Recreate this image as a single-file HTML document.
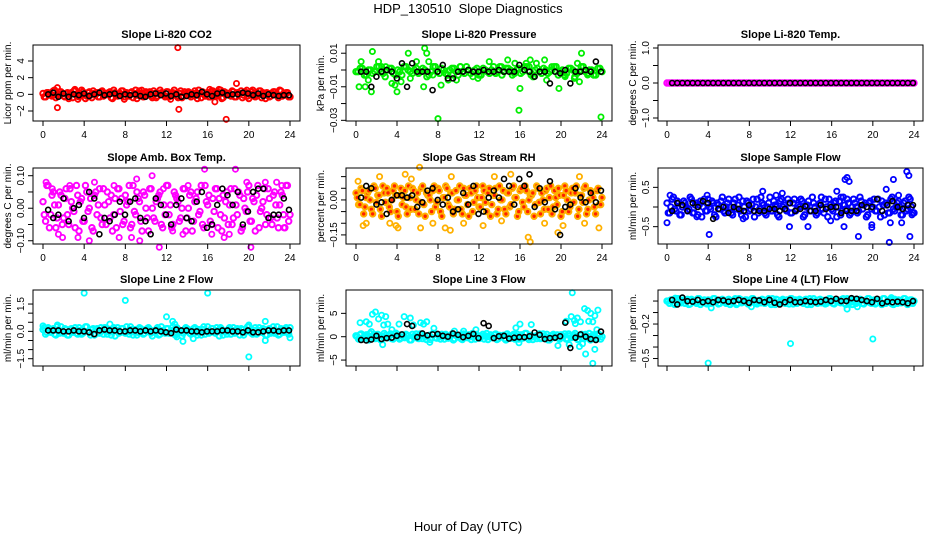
<!DOCTYPE html>
<html><head><meta charset="utf-8"><style>
body{margin:0;background:#fff;width:936px;height:540px;overflow:hidden}
svg{display:block;font-family:"Liberation Sans",sans-serif}
</style></head><body>
<svg id="chart" width="936" height="540" viewBox="0 0 936 540">
<text x="468" y="13" text-anchor="middle" font-size="13" style="white-space:pre">HDP_130510  Slope Diagnostics</text>
<text x="468" y="531" text-anchor="middle" font-size="13">Hour of Day (UTC)</text>
</svg>
<script>
// ---- data (hour 0..24; colored series spread evenly over the day) ----
const xTicks=[0,4,8,12,16,20,24];
const co2Vals=[0.1,-0.3,0.2,-0.1,0.4,-0.4,0,0.3,-0.2,0.1,-0.5,0.2,0.4,-0.1,-0.3,0.5,0,-0.2,0.3,-0.4,0.1,0.2,-0.3,0.4,-0.1,0,0.3,-0.5,0.2,-0.2,0.1,0.4,-0.3,0,0.2,-0.4,0.5,-0.1,0.1,-0.3,0.3,0,-0.2,0.4,-0.4,0.1,0.2,-0.1,0.3,-0.3,0,0.5,-0.2,0.1,-0.4,0.3,0.2,-0.1,0,0.4,-0.5,0.1,0.3,-0.2,0.2,-0.3,0.4,0,-0.1,0.5,-0.4,0.2,0.1,-0.2,0.3,-0.3,0,0.4,-0.1,0.2,-0.5,0.3,0.1,-0.2,0.4,-0.4,0,0.2,-0.3,0.1,0.3,-0.1,0.5,-0.2,0,0.2,-0.3];
const co2Out=[[1.4,0.8],[1.4,-1.6],[3.1,0.6],[3.4,-0.6],[13.1,5.6],[13.2,-1.8],[16.2,0.6],[16.7,-0.9],[17.1,0.6],[17.8,-3],[18.8,1.3],[19.8,0.5],[7.9,-0.6],[12.4,-0.6],[9.6,0.5]];
const co2Black=[0,0.2,-0.3,0.1,-0.3,0,-0.1,0.1,-0.2,0,0.2,-0.1,0,0.1,-0.2,0,-0.1,0,-0.2,-0.3,0,0.1,-0.1,0.1,-0.2,0,-0.3,-0.2,0,-0.1,0.3,0,-0.2,0.1,0.2,-0.1,0,0,0.2,0.1,-0.1,0.1,-0.2,0,-0.1,-0.2,-0.1,-0.1];
const presVals=[-0.001,0.001,-0.003,0,-0.002,0.002,-0.001,-0.004,0.001,-0.002,0,-0.003,0.002,-0.001,0,-0.002,0.001,-0.004,-0.001,0.002,-0.002,0,-0.003,0.001,-0.001,0.002,-0.002,0,-0.001,0.001,-0.003,0,-0.002,0.002,-0.001,-0.003,0.001,0,-0.002,0.001,-0.001,0.002,-0.003,0,-0.001,0.001,-0.002,0,0.002,-0.001,-0.003,0.001,0,-0.002,0.002,-0.001,0,-0.003,0.001,-0.001];
const presOut=[[0.5,0.005],[0.3,-0.010],[1.6,0.011],[1.5,-0.013],[2.2,0.005],[2.5,0.002],[3.8,-0.009],[4,-0.013],[4.4,-0.007],[5.1,0.010],[5.9,0.005],[6.7,0.013],[6.9,0.010],[7.1,0.005],[6.6,-0.010],[8,-0.029],[8.3,-0.009],[9,-0.006],[9.8,-0.006],[10.2,0.002],[11.4,-0.004],[13,0.005],[14.8,0.006],[15.5,0.004],[16,-0.011],[15.9,-0.024],[16.6,0.004],[17,0.006],[18.4,0.006],[18.6,-0.006],[19.8,-0.011],[20.4,-0.004],[21.3,-0.005],[21.6,0.004],[22,0.010],[22.6,-0.003],[23.9,-0.028],[0.9,-0.010],[2.9,0.002],[11.9,-0.005],[1.2,-0.006],[3.5,-0.008],[5.3,-0.005],[7.5,-0.003],[9.4,-0.003],[14.2,0.002],[16.9,0.002],[17.6,0.004],[19.1,0.002],[21.8,-0.007]];
const presBlack=[-0.001,-0.001,-0.010,-0.004,-0.001,0,-0.001,-0.005,0.004,-0.010,0.004,-0.001,-0.001,-0.001,-0.012,-0.001,0.003,-0.005,-0.005,-0.001,-0.001,0,-0.001,-0.001,0,-0.001,-0.001,0,-0.001,-0.001,-0.001,0.003,0,-0.001,-0.004,-0.001,-0.001,-0.008,-0.001,-0.002,0,-0.008,-0.001,-0.001,0,-0.001,0.005,-0.001];
const tempVals=[0,0,0,0,0,0,0,0,0,0,0,0,0,0,0,0,0,0,0,0,0,0,0,0,0,0,0,0,0,0,0,0,0,0,0,0,0,0,0,0,0,0,0,0,0,0,0,0,0,0,0,0,0,0,0,0,0,0,0,0];
const tempOut=[];
const tempBlack=[0,0,0,0,0,0,0,0,0,0,0,0,0,0,0,0,0,0,0,0,0,0,0,0,0,0,0,0,0,0,0,0,0,0,0,0,0,0,0,0,0,0,0,0,0,0,0,0];
const ambVals=[0.02,-0.04,0.07,-0.02,0.05,-0.06,0.01,0.04,-0.03,0.06,-0.05,0.02,-0.01,0.07,-0.07,0.03,-0.04,0.05,0,-0.06,0.04,-0.02,0.06,-0.05,0.01,0.05,-0.03,-0.07,0.03,0.06,-0.01,-0.05,0.04,0.02,-0.06,0.07,-0.02,0.03,-0.04,0.05,0,-0.07,0.06,-0.03,0.02,0.04,-0.05,0.01,0.07,-0.02,-0.06,0.05,0.03,-0.04,0,0.06,-0.03,0.04,-0.07,0.02,0.05,-0.01,-0.05,0.07,0.01,-0.04,0.03,0.06,-0.06,-0.02,0.04,0.02,-0.05,0.06,-0.03,0.01,0.05,-0.07,0.03,-0.01,0.07,-0.04,0.02,0.04,-0.06,0,0.06,-0.02,0.03,-0.05,0.05,-0.03,0.01,0.04,-0.06,0.07,-0.02];
const ambOut=[[0.3,0.08],[0.9,0.06],[1.5,-0.08],[1.9,-0.09],[3.4,-0.09],[4.5,-0.1],[5,0.08],[8.6,-0.09],[9.1,0.09],[9.4,-0.1],[10.6,0.1],[11.3,-0.12],[11.7,0.06],[13.6,-0.08],[15.7,0.12],[16.4,-0.08],[17.6,-0.09],[18.7,0.12],[19.8,0.08],[20.2,-0.12],[21.6,0.08],[22.7,0.08],[23.2,0.07],[2.6,0.07],[6.9,0.07],[14.1,0.07],[23.4,-0.06],[7.4,-0.09],[12.6,-0.07],[18.1,-0.08]];
const ambBlack=[-0.005,-0.03,-0.02,0.03,-0.04,0,0.01,-0.03,0.05,0.03,-0.08,-0.03,-0.04,-0.02,0.02,-0.02,0.02,0.03,-0.03,-0.04,-0.08,0.03,0.01,-0.02,-0.05,0.01,0.03,-0.03,-0.04,0.02,0.05,-0.06,-0.05,0.01,0.06,0.04,0.01,0.05,-0.05,-0.01,0.05,0.06,0.06,-0.03,-0.02,-0.02,0.03,-0.005];
const rhVals=[0.03,-0.02,0.05,-0.06,0.01,0.04,-0.04,0.06,-0.01,0.02,-0.07,0.03,0.05,-0.03,0,0.06,-0.05,0.02,-0.02,0.04,-0.06,0.01,0.05,-0.04,0.03,-0.01,0.06,-0.07,0.02,0,0.04,-0.03,0.05,-0.05,0.01,0.06,-0.02,0.03,-0.06,0.04,0,-0.04,0.05,0.02,-0.07,0.03,-0.01,0.06,-0.03,0.01,0.04,-0.05,0.05,-0.02,0.02,-0.06,0.06,0,-0.04,0.03,-0.03,0.05,0.01,-0.07,0.04,-0.01,0.06,-0.05,0.02,0.03,-0.02,0.05,-0.06,0,0.04,-0.04,0.06,-0.03,0.01,0.05,-0.07,0.02,0.04,-0.05,0.03,-0.01,0.06,-0.04,0.02,0.05,-0.06,0,0.03,-0.03,0.04,-0.02,0.01];
const rhOut=[[0.2,0.08],[0.7,-0.11],[1,-0.1],[2.3,0.10],[3.3,-0.1],[3.9,-0.11],[4.1,-0.12],[4.8,0.11],[6.2,0.14],[6.3,-0.12],[7.5,-0.1],[8.7,-0.12],[9.2,-0.13],[9.3,0.10],[10.5,-0.10],[12.4,-0.11],[13.5,0.10],[14.2,-0.09],[16.8,-0.16],[17,-0.18],[18.4,-0.10],[19.7,-0.14],[20.2,-0.11],[21.8,0.10],[22.3,-0.10],[23.7,-0.12],[15.1,0.11],[5.4,0.09]];
const rhBlack=[0.01,0.06,0.05,-0.02,-0.01,-0.06,0,0.02,0.02,0.01,0.02,-0.03,-0.01,0.04,0.05,0,-0.02,0.01,-0.05,-0.04,0.03,-0.02,0.06,-0.06,-0.05,0.01,0.04,0.01,0.09,0.06,-0.02,0.09,0.06,0.11,-0.03,0.05,-0.01,0.08,-0.04,-0.15,-0.03,-0.02,0.05,0.01,-0.01,0.03,-0.01,0.04];
const sfVals=[0.1,-0.15,0.2,-0.05,0.15,-0.2,0,0.1,-0.1,0.25,-0.15,0.05,-0.2,0.15,0,-0.1,0.2,-0.05,0.1,-0.25,0.05,0.15,-0.1,0,0.2,-0.15,0.1,-0.05,0.25,-0.2,0,0.15,-0.1,0.05,-0.25,0.2,-0.05,0.1,-0.15,0,0.25,-0.1,0.05,-0.2,0.15,0,-0.05,0.2,-0.15,0.1,-0.1,0.05,0.2,-0.25,0,0.15,-0.1,0.1,-0.2,0.05,0.25,-0.15,0,0.2,-0.05,0.1,-0.25,0.15,-0.1,0.05,0.2,-0.2,0,0.1,-0.15,0.25,-0.05,0.1,-0.2,0.15,0,-0.1,0.2,-0.25,0.05,0.1,-0.15,0.2,-0.05,0,0.15,-0.2,0.1,-0.1,0.25,0,-0.15];
const sfOut=[[0,-0.4],[0.3,0.3],[2.9,-0.25],[4.1,-0.7],[3.9,0.3],[7.4,-0.3],[9.3,0.4],[10.6,0.3],[11.9,-0.5],[11.2,0.35],[13.7,-0.5],[15.9,-0.35],[16.5,0.4],[17.3,0.7],[17.5,0.75],[17.7,0.65],[17.2,-0.5],[18.6,-0.75],[19.9,-0.45],[19.9,-0.52],[21.3,0.45],[21.6,-0.9],[21.7,-0.4],[22,0.7],[22.5,0.3],[23.3,0.9],[23.5,0.8],[23.6,-0.75],[22.8,-0.4],[23.8,-0.2],[16.9,0.25],[20.5,0.2]];
const sfBlack=[-0.1,0.1,0.05,-0.1,0.1,0,0.15,0.1,-0.3,-0.05,0,-0.15,0,-0.05,-0.1,0.05,-0.1,-0.1,-0.1,-0.05,-0.05,-0.1,-0.05,0.1,-0.1,-0.05,0.02,-0.1,-0.1,0.05,-0.05,0,0,-0.15,-0.1,-0.1,-0.1,0.05,0,0,0.2,-0.1,0.05,0.15,0,-0.05,0.05,0.05];
const l2Vals=[0.1,-0.15,0.2,-0.05,0.15,-0.2,0,0.25,-0.1,0.1,-0.2,0.15,0.05,-0.1,0.2,-0.15,0,0.25,-0.05,0.1,-0.2,0.15,-0.1,0.05,0.2,-0.15,0,0.1,-0.25,0.2,-0.05,0.15,-0.1,0,0.25,-0.2,0.1,-0.05,0.15,-0.15,0.05,0.2,-0.1,0,0.1,-0.2,0.25,-0.05,0.15,-0.1,0.05,-0.15,0.2,0,-0.25,0.1,0.15,-0.1,0.05,0.2,-0.2,0,0.1,-0.15,0.25,-0.05,0.15,-0.1,0.05,0.2,-0.2,0,0.1,-0.15,0.2,-0.05,0.1,0.15,-0.2,0,0.25,-0.1,0.05,-0.15,0.2,-0.05,0.1,-0.2,0.15,0,-0.1,0.25,-0.15,0.05,0.1,-0.05,0.2];
const l2Out=[[4,2.1],[8,1.7],[16,2.1],[12,0.8],[20,-1.4],[12.6,0.55],[12.8,0.4],[13,-0.3],[13.6,-0.55],[14.6,-0.4],[20,0.35],[21.6,0.55],[21.6,-0.5],[24,-0.35],[0,0.3],[1.4,0.35],[6.5,0.4]];
const l2Black=[0.05,0.05,0.05,0,0,0.05,0,0,-0.05,-0.15,0.05,0.1,0.05,0.05,0,0,0.05,0.05,0,0.05,0,0.05,0,-0.05,-0.1,0.1,0.05,0.05,0,0,-0.05,0,0,0,0.05,0.05,0,0,-0.05,0.05,-0.05,-0.05,0,0.05,0.05,0,0.05,0.05];
const l3Vals=[0.2,-0.5,0.6,-0.3,0.4,-0.7,0,0.5,-0.2,0.3,-0.6,0.7,-0.1,0.2,-0.4,0.6,0,-0.5,0.4,-0.2,0.3,-0.7,0.5,0.1,-0.3,0.6,-0.4,0,0.2,-0.6,0.7,-0.2,0.4,-0.5,0.1,0.5,-0.3,0.2,-0.7,0.3,0,-0.4,0.6,-0.1,0.4,-0.6,0.2,0.5,-0.3,0.1,-0.5,0.7,0,-0.2,0.4,-0.6,0.3,0.1,-0.4,0.6,-0.1,0.2,-0.5,0.5,0,-0.3,0.7,-0.2,0.3,-0.6,0.1,0.4,-0.4,0.6,0,-0.7,0.2,0.5,-0.1,-0.3,0.4,0.1,-0.5,0.6,-0.2,0.3,0,-0.6,0.5,-0.4,0.2,0.7,-0.1,0.1,-0.3,0.4,0];
const l3Out=[[0.4,3],[1,3.2],[1.3,2.7],[1.6,4.8],[1.9,5.3],[2.2,3.8],[2.5,4.6],[2.9,4.3],[2.7,2.5],[3.1,2.7],[3.5,1.5],[3.9,0.8],[4.2,2.7],[4.7,4.3],[5.3,4],[5.6,2.5],[6.3,3],[6.6,2.7],[6.9,3.2],[1.5,1.1],[2.6,-1.7],[7.2,-1.2],[7.6,1.8],[9.6,1.2],[10.5,1.2],[11.7,1.5],[15.6,1.9],[16,2.7],[17.1,2.6],[15.9,-1.3],[19.7,-1.9],[20.5,3.3],[21,4.3],[21.3,3.5],[21.6,4],[21.9,3.2],[22.3,6],[22.6,5.6],[22.9,5],[23.1,3.2],[23.3,4.5],[23.6,5.7],[23.5,1.5],[20.8,-1.7],[21.8,-2.1],[22.1,-1.5],[22.4,-3.7],[23.1,-5.7],[23.3,-2.7],[21.1,9.4],[21.4,2.8],[22.7,3.3]];
const l3Black=[-0.7,-0.8,-0.6,0.2,-0.5,-0.3,-0.2,0.2,0.5,2.7,2.3,-0.1,0.7,0.3,0.5,0.6,0.2,0,0.7,0.4,-0.1,0.2,0.6,-0.3,2.9,2.3,-0.3,0.1,0.2,-0.4,-0.2,-0.1,-0.1,0.1,0.9,0.4,-0.5,-0.3,-0.2,0.1,3,-2.4,-0.2,0.5,0,-0.5,-0.7,1.1];
const l4Vals=[0,-0.02,0.01,-0.03,0.02,-0.01,0,-0.02,0.015,-0.025,0.005,-0.01,0.02,-0.03,0,-0.015,0.01,-0.02,0.02,-0.005,-0.025,0.01,0,-0.02,0.015,-0.01,0.005,-0.03,0.02,-0.015,0,0.01,-0.02,0.02,-0.01,-0.025,0.005,0.015,-0.02,0,-0.01,0.02,-0.03,0.01,-0.005,0.015,-0.02,0,0.02,-0.025,0.01,-0.01,0.005,-0.02,0.015,0,-0.03,0.02,-0.01,0.01,-0.015,0.005,-0.02,0.02,0,-0.025,0.01,-0.01,0.015,-0.02,0.02,0,-0.03,0.01,-0.005,0.015,-0.02,0.005,0.02,-0.015,0,-0.025,0.01,-0.01,0.02,-0.02,0.005,0.015,-0.03,0,0.01,-0.015,0.02,-0.005,-0.02,0.01,0];
const l4Out=[[4,-0.54],[12,-0.37],[20,-0.33],[0.8,0.025],[4.3,-0.06],[8.2,-0.05],[15.9,0.02],[17.5,-0.07],[18.5,-0.05],[21.8,0.03]];
const l4Black=[0.01,-0.03,0.03,-0.001,-0.005,0.01,-0.01,0,-0.01,0.01,0.005,-0.005,0,0.01,0,-0.015,0.01,0.005,-0.01,0.01,-0.015,-0.03,-0.01,0.01,-0.01,-0.01,0,-0.005,-0.01,-0.005,0.01,0,0.02,0,0,0.025,0.02,0.01,0,-0.01,0.02,-0.02,-0.005,-0.01,-0.005,-0.01,-0.02,0];

const SVGNS="http://www.w3.org/2000/svg";
const svg=document.getElementById('chart');
const cols=[{l:33,r:300,x0:43,x24:290},{l:346,r:612,x0:356,x24:602},{l:658,r:923,x0:667,x24:914}];
const rows=[{t:45,b:121},{t:168,b:244},{t:290,b:366}];
const panels=[
 {key:'co2',title:'Slope Li-820 CO2',ylab:'Licor ppm per min.',col:'#ff0000',lo:-3.2,hi:5.92,ticks:[-2,0,2,4],labs:[[-2,'\u22122'],[0,'0'],[2,'2'],[4,'4']],v:co2Vals,o:co2Out,k:co2Black},
 {key:'pressure',title:'Slope Li-820 Pressure',ylab:'kPa per min.',col:'#00ee00',lo:-0.0304,hi:0.0149,ticks:[-0.03,-0.02,-0.01,0,0.01],labs:[[-0.03,'\u22120.03'],[-0.01,'\u22120.01'],[0.01,'0.01']],v:presVals,o:presOut,k:presBlack},
 {key:'li820-temp',title:'Slope Li-820 Temp.',ylab:'degrees C per min.',col:'#ff00ff',lo:-1.086,hi:1.086,ticks:[-1,-0.5,0,0.5,1],labs:[[-1,'\u22121.0'],[0,'0.0'],[1,'1.0']],v:tempVals,o:tempOut,k:tempBlack},
 {key:'amb-temp',title:'Slope Amb. Box Temp.',ylab:'degrees C per min.',col:'#ff00ff',lo:-0.110,hi:0.1237,ticks:[-0.1,-0.05,0,0.05,0.1],labs:[[-0.1,'\u22120.10'],[0,'0.00'],[0.1,'0.10']],v:ambVals,o:ambOut,k:ambBlack},
 {key:'rh',title:'Slope Gas Stream RH',ylab:'percent per min.',col:'#ffb000',lo:-0.189,hi:0.137,ticks:[-0.15,-0.1,-0.05,0,0.05,0.1],labs:[[-0.15,'\u22120.15'],[0,'0.00']],v:rhVals,o:rhOut,k:rhBlack},
 {key:'sample-flow',title:'Slope Sample Flow',ylab:'ml/min per min.',col:'#0000ff',lo:-0.941,hi:0.992,ticks:[-0.5,0,0.5],labs:[[-0.5,'\u22120.5'],[0.5,'0.5']],v:sfVals,o:sfOut,k:sfBlack},
 {key:'line2',title:'Slope Line 2 Flow',ylab:'ml/min per min.',col:'#00ffff',lo:-1.9,hi:2.27,ticks:[-1.5,-1,-0.5,0,0.5,1,1.5],labs:[[-1.5,'\u22121.5'],[0,'0.0'],[1.5,'1.5']],v:l2Vals,o:l2Out,k:l2Black},
 {key:'line3',title:'Slope Line 3 Flow',ylab:'ml/min per min.',col:'#00ffff',lo:-6.27,hi:10,ticks:[-5,0,5],labs:[[-5,'\u22125'],[0,'0'],[5,'5']],v:l3Vals,o:l3Out,k:l3Black},
 {key:'line4',title:'Slope Line 4 (LT) Flow',ylab:'ml/min per min.',col:'#00ffff',lo:-0.565,hi:0.096,ticks:[0,-0.1,-0.2,-0.3,-0.4,-0.5],labs:[[-0.2,'\u22120.2'],[-0.5,'\u22120.5']],v:l4Vals,o:l4Out,k:l4Black}
];
function mk(tag,attrs,parent){const e=document.createElementNS(SVGNS,tag);for(const a in attrs)e.setAttribute(a,attrs[a]);(parent||svg).appendChild(e);return e;}
panels.forEach((p,i)=>{
 const c=cols[i%3],r=rows[Math.floor(i/3)];
 const xs=h=>c.x0+(c.x24-c.x0)*h/24;
 const ys=v=>r.b-(r.b-r.t)*(v-p.lo)/(p.hi-p.lo);
 const g=mk('g',{});
 
 
 const clip=mk('g',{});g.appendChild(clip);
 
 
 const n=p.v.length;
 const fillC=p.key==='rh'?'#ff2000':'none';
 p.v.forEach((v,j)=>{
  const e=mk('circle',{cx:xs(24*j/(n-1)),cy:ys(v),r:2.7,fill:fillC,stroke:p.col,'stroke-width':2},clip);
  
  
  if(j<n-1){
   const e2=mk('circle',{cx:xs(24*(j+0.5)/(n-1)),cy:ys(p.v[n-1-j]),r:2.7,fill:fillC,stroke:p.col,'stroke-width':2},clip);
   
   
  }
 });
 p.o.forEach(d=>{
  const e=mk('circle',{cx:xs(d[0]),cy:ys(d[1]),r:2.6,fill:'none',stroke:p.col,'stroke-width':1.8},clip);
  
  
 });
 const m=p.k.length;
 p.k.forEach((v,j)=>{
  const e=mk('circle',{cx:xs(0.5+23.4*j/(m-1)),cy:ys(v),r:2.5,fill:'none',stroke:'#000','stroke-width':1.6},clip);
  
  
 });
 const box=mk('rect',{x:c.l,y:r.t,width:c.r-c.l,height:r.b-r.t,fill:'none',stroke:'#000','stroke-width':1},g);
 
 
 const t=mk('text',{x:(c.l+c.r)/2,y:r.t-7,'text-anchor':'middle','font-size':11,'font-weight':'bold'},g);
 t.textContent=p.title;
 
 
 const yl=mk('text',{x:0,y:0,'text-anchor':'middle','font-size':10,transform:`translate(${c.l-22},${(r.t+r.b)/2}) rotate(-90)`},g);
 yl.textContent=p.ylab;
 
 
 xTicks.forEach(h=>{
  const tk=mk('line',{x1:xs(h),x2:xs(h),y1:r.b,y2:r.b+5,stroke:'#000'},g);
  
  
  if(i<6){const tl=mk('text',{x:xs(h),y:r.b+17,'text-anchor':'middle','font-size':10},g);tl.textContent=h;
   
   }
 });
 p.ticks.forEach(v=>{
  const tk=mk('line',{x1:c.l-5,x2:c.l,y1:ys(v),y2:ys(v),stroke:'#000'},g);
  
  
 });
 p.labs.forEach(d=>{
  const tl=mk('text',{x:0,y:0,'text-anchor':'middle','font-size':10,transform:`translate(${c.l-9},${ys(d[0])}) rotate(-90)`},g);
  tl.textContent=d[1];
  
  
 });
});
</script>
</body></html>
